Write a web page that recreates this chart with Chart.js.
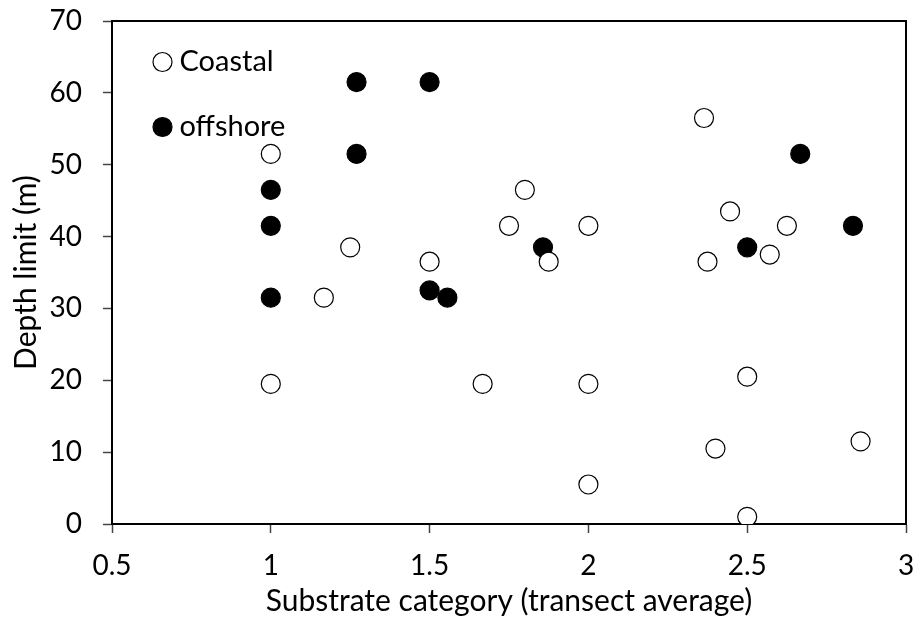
<!DOCTYPE html>
<html><head><meta charset="utf-8">
<script src="https://cdn.jsdelivr.net/npm/chart.js@4.4.1/dist/chart.umd.min.js"></script>
<style>html,body{margin:0;padding:0;background:#fff}#wrap{width:919px;height:624px}</style>
</head><body><div id="wrap"><canvas id="c" width="919" height="624"></canvas></div>
<script>
const coastalX = [1.0, 1.0, 1.167, 1.25, 1.5, 1.667, 1.75, 1.8, 1.875, 2.0, 2.0, 2.0, 2.364, 2.446, 2.625, 2.375, 2.571, 2.5, 2.4, 2.857, 2.5];
const coastalY = [51.5, 19.5, 31.5, 38.5, 36.5, 19.5, 41.5, 46.5, 36.5, 41.5, 19.5, 5.5, 56.5, 43.5, 41.5, 36.5, 37.5, 20.5, 10.5, 11.5, 1.0];
const offshoreX = [1.0, 1.0, 1.0, 1.27, 1.5, 1.27, 1.5, 1.556, 1.857, 2.5, 2.667, 2.833];
const offshoreY = [46.5, 41.5, 31.5, 61.5, 61.5, 51.5, 32.5, 31.5, 38.5, 38.5, 51.5, 41.5];
const xTicks = [0.5, 1, 1.5, 2, 2.5, 3];
const yTicks = [0, 10, 20, 30, 40, 50, 60, 70];
const seriesNames = ['Coastal', 'offshore'];
const xTitle = 'Substrate category (transect average)';
const yTitle = 'Depth limit (m)';

const FONT = 'Lato, Carlito, Calibri, sans-serif';
const FS = 28;
const FT = 30;
const FL = 29;
const toPts = (xs, ys) => xs.map((x, i) => ({x: x, y: ys[i]}));

const framePlugin = {
  id: 'frame',
  afterDatasetsDraw(chart) {
    const a = chart.chartArea, ctx = chart.ctx;
    ctx.save();
    ctx.strokeStyle = '#000';
    ctx.lineWidth = 2;
    ctx.beginPath();
    ctx.moveTo(a.left, a.top); ctx.lineTo(a.right, a.top); ctx.lineTo(a.right, a.bottom);
    ctx.stroke();
    ctx.restore();
  }
};
const legendPlugin = {
  id: 'inlegend',
  afterDraw(chart) {
    const ctx = chart.ctx, a = chart.chartArea;
    ctx.save();
    chart.data.datasets.forEach((ds, i) => {
      const cx = a.left + 50.5, cy = a.top + 41 + i * 65;
      ctx.beginPath();
      ctx.arc(cx, cy, 9.5, 0, Math.PI * 2);
      ctx.fillStyle = ds.backgroundColor; ctx.fill();
      ctx.lineWidth = 1.2; ctx.strokeStyle = '#000'; ctx.stroke();
      ctx.fillStyle = '#000';
      ctx.font = FL + 'px ' + FONT;
      ctx.textBaseline = 'middle';
      ctx.textAlign = 'left';
      ctx.fillText(ds.label, cx + 17, cy);
    });
    ctx.restore();
  }
};

new Chart(document.getElementById('c'), {
  type: 'scatter',
  data: {
    datasets: [
      {label: seriesNames[0], data: toPts(coastalX, coastalY), backgroundColor: '#ffffff', borderColor: '#000', borderWidth: 1.2, pointRadius: 9.5, pointHoverRadius: 9.5},
      {label: seriesNames[1], data: toPts(offshoreX, offshoreY), backgroundColor: '#000000', borderColor: '#000', borderWidth: 1.2, pointRadius: 9.5, pointHoverRadius: 9.5}
    ]
  },
  options: {
    responsive: false,
    animation: false,
    events: [],
    layout: {padding: {top: 21, right: 13, left: 0, bottom: 0}},
    plugins: {legend: {display: false}, tooltip: {enabled: false}},
    scales: {
      x: {
        type: 'linear', min: 0.5, max: 3,
        afterBuildTicks: s => { s.ticks = xTicks.map(v => ({value: v})); },
        afterFit: s => { s.height = 100; s.paddingLeft = 0; s.paddingRight = 0; },
        grid: {drawOnChartArea: false, tickLength: 9, tickColor: '#444', tickWidth: 1.5},
        border: {color: '#000', width: 2},
        ticks: {color: '#000', font: {family: FONT, size: FS}, padding: 16, maxRotation: 0, callback: v => String(v)},
        title: {display: true, text: xTitle, color: '#000', font: {family: FONT, size: FT}, padding: {top: 0, bottom: 5}}
      },
      y: {
        type: 'linear', min: 0, max: 70,
        afterBuildTicks: s => { s.ticks = yTicks.map(v => ({value: v})); },
        afterFit: s => { s.width = 112; s.paddingTop = 0; s.paddingBottom = 0; },
        grid: {drawOnChartArea: false, tickLength: 9, tickColor: '#444', tickWidth: 1.5},
        border: {color: '#000', width: 2},
        ticks: {color: '#000', font: {family: FONT, size: FS}, padding: 21, callback: v => String(v)},
        title: {display: true, text: yTitle, color: '#000', font: {family: FONT, size: FT}, padding: {top: 8, bottom: 0}}
      }
    }
  },
  plugins: [framePlugin, legendPlugin]
});
</script></body></html>
